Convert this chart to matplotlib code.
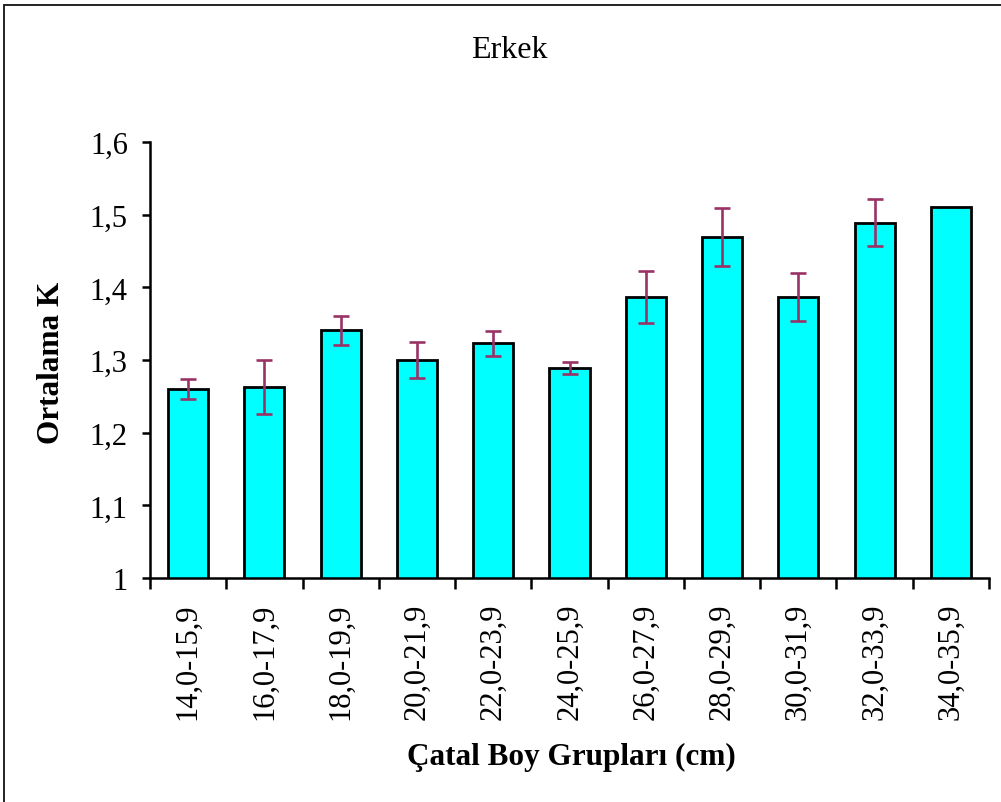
import numpy as np
import matplotlib
matplotlib.use("Agg")
import matplotlib.pyplot as plt
from matplotlib.patches import Rectangle
from matplotlib.ticker import FuncFormatter

plt.rcParams['font.family'] = ['Liberation Serif', 'DejaVu Serif']

groups = ['14,0-15,9', '16,0-17,9', '18,0-19,9', '20,0-21,9', '22,0-23,9', '24,0-25,9',
          '26,0-27,9', '28,0-29,9', '30,0-31,9', '32,0-33,9', '34,0-35,9']
mean_k = [1.260, 1.263, 1.341, 1.300, 1.323, 1.289, 1.387, 1.469, 1.387, 1.489, 1.510]
err_k = [0.014, 0.037, 0.020, 0.025, 0.017, 0.008, 0.036, 0.040, 0.033, 0.032, np.nan]
yticks = [1.0, 1.1, 1.2, 1.3, 1.4, 1.5, 1.6]

fig = plt.figure(figsize=(10.01, 8.03), dpi=100)
ax = fig.add_axes([150/1001, 1-579/803, 839/1001, 436/803])

x = np.arange(len(groups))
ax.bar(x, mean_k, width=0.526, bottom=0, color='#00FFFF', edgecolor='black',
       linewidth=2.0, zorder=2)
err = np.array(err_k)
ok = np.isfinite(err)
ax.errorbar(x[ok], np.array(mean_k)[ok], yerr=err[ok], fmt='none', ecolor='#993366',
            elinewidth=1.9, capsize=6, capthick=1.9, zorder=3)

ax.set_xlim(-0.5, len(groups) - 0.5)
ax.set_ylim(1.0, 1.6)
ax.set_yticks(yticks)
ax.yaxis.set_major_formatter(FuncFormatter(lambda v, p: ('%g' % round(v, 1)).replace('.', ',')))
ax.set_xticks(x)
ax.set_xticklabels(groups, rotation=90, fontsize=22)
ax.set_xticks(np.arange(len(groups) + 1) - 0.5, minor=True)
ax.tick_params(axis='x', which='major', length=0, pad=18)
ax.tick_params(axis='x', which='minor', length=8, width=1.8, direction='out')
ax.tick_params(axis='y', length=6, width=1.8, direction='out', pad=10, labelsize=22)

for s in ['top', 'right']:
    ax.spines[s].set_visible(False)
for s in ['left', 'bottom']:
    ax.spines[s].set_linewidth(1.8)

fig.text(509/1001, 1-51/803, 'Erkek', ha='center', va='center', fontsize=23)
fig.text(52/1001, 1-363/803, 'Ortalama K', ha='center', va='center', rotation=90,
         fontsize=22.5, fontweight='bold')
fig.text(571/1001, 1-757/803, 'Çatal Boy Grupları (cm)', ha='center', va='center',
         fontsize=22.5, fontweight='bold')

fig.patches.append(Rectangle((4/1001, -0.1), 1.2, 1.1 - 6/803, transform=fig.transFigure,
                             fill=False, edgecolor='#222222', linewidth=1.4))

fig.savefig('out.png', dpi=100)
